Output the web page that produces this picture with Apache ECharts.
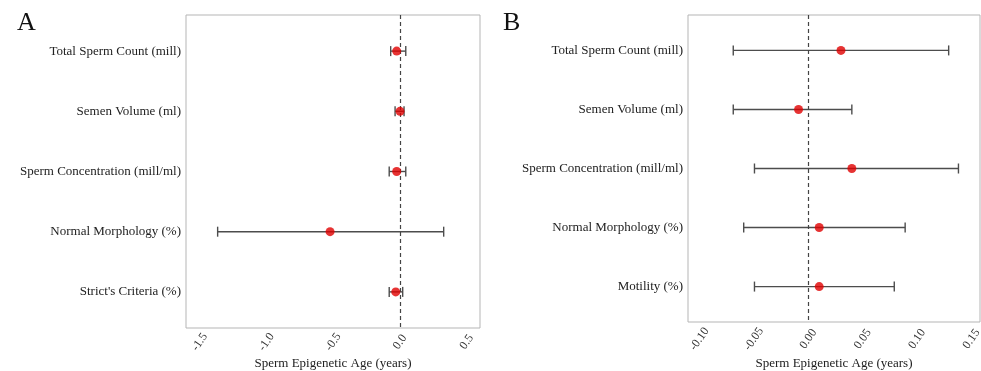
<!DOCTYPE html>
<html>
<head>
<meta charset="utf-8">
<script src="https://cdn.jsdelivr.net/npm/echarts@6/dist/echarts.min.js"></script>
<style>
  html, body {margin: 0; padding: 0; background: #fff;}
  #chart {width: 981px; height: 371px;}
</style>
</head>
<body>
<div id="chart"></div>
<script>
// panel A
const catsA = ['Total Sperm Count (mill)', 'Semen Volume (ml)', 'Sperm Concentration (mill/ml)', 'Normal Morphology (%)', "Strict's Criteria (%)"];
const estA = [-0.025, 0.0, -0.025, -0.524, -0.032];
const lowA = [-0.07, -0.037, -0.081, -1.366, -0.081];
const highA = [0.043, 0.03, 0.043, 0.327, 0.02];
const ticksA = [-1.5, -1.0, -0.5, 0.0, 0.5];

// panel B
const catsB = ['Total Sperm Count (mill)', 'Semen Volume (ml)', 'Sperm Concentration (mill/ml)', 'Normal Morphology (%)', 'Motility (%)'];
const estB = [0.030, -0.009, 0.040, 0.010, 0.010];
const lowB = [-0.069, -0.069, -0.0495, -0.0594, -0.0495];
const highB = [0.129, 0.040, 0.138, 0.089, 0.079];
const ticksB = [-0.10, -0.05, 0.00, 0.05, 0.10, 0.15];

const FONT = 'Liberation Serif';
const chart = echarts.init(document.getElementById('chart'));

const errBar = (params, api) => {
  const y = api.value(2);
  const a = api.coord([api.value(0), y]);
  const b = api.coord([api.value(1), y]);
  const st = {stroke: '#4d4d4d', lineWidth: 1.4};
  return {
    type: 'group',
    children: [
      {type: 'line', shape: {x1: a[0], y1: a[1], x2: b[0], y2: b[1]}, style: st},
      {type: 'line', shape: {x1: a[0], y1: a[1] - 5, x2: a[0], y2: a[1] + 5}, style: st},
      {type: 'line', shape: {x1: b[0], y1: b[1] - 5, x2: b[0], y2: b[1] + 5}, style: st}
    ]
  };
};

const xAxisOf = (idx, min, max, ticks, digits, gap, margin) => ({
  gridIndex: idx,
  type: 'value',
  min, max,
  name: 'Sperm Epigenetic Age (years)',
  nameLocation: 'middle',
  nameGap: gap,
  nameMoveOverlap: false,
  nameTextStyle: {fontFamily: FONT, fontSize: 13, color: '#222', verticalAlign: 'top'},
  axisLine: {show: false},
  axisTick: {show: false},
  splitLine: {show: false},
  axisLabel: {
    customValues: ticks,
    rotate: 55,
    margin,
    align: 'center',
    verticalAlign: 'middle',
    fontFamily: FONT, fontSize: 12, color: '#333',
    formatter: v => v.toFixed(digits)
  }
});

const yAxisOf = (idx, cats) => ({
  gridIndex: idx,
  type: 'value',
  min: -0.6, max: 4.6,
  inverse: true,
  axisLine: {show: false},
  axisTick: {show: false},
  splitLine: {show: false},
  axisLabel: {
    customValues: [0, 1, 2, 3, 4],
    margin: 5,
    fontFamily: FONT, fontSize: 13, color: '#222',
    formatter: v => cats[Math.round(v)]
  }
});

const seriesOf = (idx, est, low, high) => [
  {
    type: 'custom',
    xAxisIndex: idx, yAxisIndex: idx,
    renderItem: errBar,
    encode: {x: [0, 1], y: 2},
    data: low.map((l, i) => [l, high[i], i]),
    silent: true
  },
  {
    type: 'scatter',
    xAxisIndex: idx, yAxisIndex: idx,
    symbolSize: 9,
    itemStyle: {color: '#e00000'},
    data: est.map((v, i) => [v, i]),
    z: 5,
    markLine: {
      silent: true,
      symbol: 'none',
      label: {show: false},
      lineStyle: {color: '#444', type: [4, 3], width: 1.2},
      data: [{xAxis: 0}]
    }
  }
];

const letter = (text, left) => ({
  text, left, top: 10, padding: 0,
  textStyle: {fontFamily: FONT, fontSize: 26, fontWeight: 'normal', color: '#111'}
});

chart.setOption({
  animation: false,
  backgroundColor: '#fff',
  title: [letter('A', 17), letter('B', 503)],
  grid: [
    {left: 186, top: 15, width: 294, height: 313, outerBoundsMode: 'none', show: true, borderColor: '#b5b5b5', borderWidth: 1, backgroundColor: 'transparent'},
    {left: 688, top: 15, width: 292, height: 307, outerBoundsMode: 'none', show: true, borderColor: '#b5b5b5', borderWidth: 1, backgroundColor: 'transparent'}
  ],
  xAxis: [
    xAxisOf(0, -1.603, 0.599, ticksA, 1, 29, 14),
    xAxisOf(1, -0.1106, 0.1578, ticksB, 2, 35, 17)
  ],
  yAxis: [yAxisOf(0, catsA), yAxisOf(1, catsB)],
  series: [...seriesOf(0, estA, lowA, highA), ...seriesOf(1, estB, lowB, highB)]
});
</script>
</body>
</html>
